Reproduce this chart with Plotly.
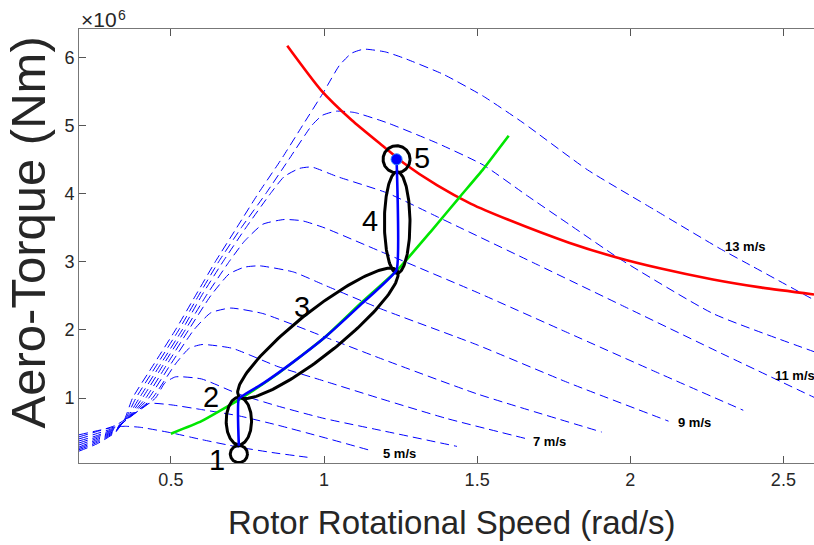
import numpy as np
import plotly.graph_objects as go

# ---------------- data (x: rotor speed rad/s, y: aero torque in 1e6 Nm) ----------------
wind_speeds = [4, 5, 6, 7, 8, 9, 10, 11, 12, 13]

ws4_x = [0.20, 0.27, 0.32, 0.35, 0.40, 0.50, 0.60, 0.72, 0.83, 0.946]
ws4_y = [0.46, 0.53, 0.575, 0.585, 0.57, 0.49, 0.39, 0.28, 0.20, 0.13]

ws5_x = [0.20, 0.26, 0.32, 0.39, 0.428, 0.50, 0.60, 0.72, 0.85, 1.00, 1.16]
ws5_y = [0.43, 0.51, 0.60, 0.80, 0.92, 0.90, 0.83, 0.74, 0.60, 0.42, 0.22]

ws6_x = [0.20, 0.26, 0.32, 0.385, 0.45, 0.48, 0.515, 0.60, 0.72, 0.85, 1.00, 1.185, 1.434]
ws6_y = [0.40, 0.48, 0.57, 0.78, 1.00, 1.22, 1.31, 1.28, 1.06, 0.88, 0.70, 0.525, 0.29]

ws7_x = [0.20, 0.26, 0.32, 0.38, 0.44, 0.515, 0.56, 0.602, 0.70, 0.85, 1.00, 1.185, 1.40, 1.663]
ws7_y = [0.37, 0.45, 0.56, 0.77, 1.00, 1.50, 1.73, 1.785, 1.73, 1.46, 1.25, 0.99, 0.70, 0.40]

ws8_x = [0.20, 0.26, 0.32, 0.375, 0.428, 0.50, 0.575, 0.63, 0.695, 0.80, 1.00, 1.185, 1.50, 1.907]
ws8_y = [0.34, 0.43, 0.55, 0.76, 1.00, 1.50, 2.00, 2.25, 2.32, 2.24, 1.90, 1.58, 1.06, 0.50]

ws9_x = [0.20, 0.26, 0.32, 0.37, 0.418, 0.488, 0.558, 0.63, 0.69, 0.74, 0.79, 0.90, 1.00, 1.185, 1.50, 1.80, 2.125]
ws9_y = [0.31, 0.41, 0.54, 0.75, 1.00, 1.50, 2.00, 2.50, 2.82, 2.92, 2.94, 2.85, 2.66, 2.31, 1.78, 1.22, 0.66]

ws10_x = [0.20, 0.26, 0.32, 0.365, 0.407, 0.477, 0.547, 0.615, 0.69, 0.74, 0.80, 0.87, 0.93, 1.00, 1.185, 1.50, 1.80, 2.10, 2.369]
ws10_y = [0.28, 0.39, 0.53, 0.74, 1.00, 1.50, 2.00, 2.50, 3.00, 3.30, 3.55, 3.62, 3.60, 3.50, 3.15, 2.55, 1.95, 1.35, 0.82]

ws11_x = [0.20, 0.26, 0.32, 0.36, 0.397, 0.467, 0.537, 0.60, 0.67, 0.745, 0.825, 0.87, 0.92, 0.96, 1.043, 1.206, 1.37, 1.70, 2.00, 2.30, 2.60]
ws11_y = [0.26, 0.37, 0.52, 0.73, 1.00, 1.50, 2.00, 2.50, 3.00, 3.50, 4.00, 4.25, 4.37, 4.39, 4.25, 4.01, 3.66, 2.95, 2.30, 1.65, 1.01]

ws12_x = [0.20, 0.26, 0.32, 0.355, 0.386, 0.456, 0.526, 0.59, 0.656, 0.73, 0.81, 0.885, 0.96, 0.995, 1.04, 1.10, 1.206, 1.37, 1.52, 1.66, 1.80, 1.97, 2.27, 2.60]
ws12_y = [0.24, 0.35, 0.51, 0.72, 1.00, 1.50, 2.00, 2.50, 3.00, 3.50, 4.00, 4.50, 5.00, 5.15, 5.21, 5.19, 5.04, 4.74, 4.42, 3.98, 3.55, 3.03, 2.24, 1.68]

ws13_x = [0.20, 0.26, 0.32, 0.35, 0.375, 0.445, 0.515, 0.58, 0.645, 0.715, 0.785, 0.86, 0.93, 1.00, 1.05, 1.09, 1.13, 1.20, 1.26, 1.39, 1.52, 1.65, 1.86, 2.08, 2.29, 2.40, 2.60]
ws13_y = [0.22, 0.33, 0.50, 0.70, 1.00, 1.50, 2.00, 2.50, 3.00, 3.50, 4.00, 4.50, 5.00, 5.50, 5.88, 6.06, 6.12, 6.08, 5.99, 5.75, 5.43, 5.04, 4.35, 3.76, 3.20, 2.93, 2.44]

# rated (constant power) curve
red_x = [0.88, 0.99, 1.09, 1.20, 1.26, 1.37, 1.48, 1.60, 1.80, 1.95, 2.10, 2.27, 2.43, 2.60]
red_y = [6.17, 5.52, 5.08, 4.67, 4.45, 4.12, 3.85, 3.62, 3.28, 3.07, 2.90, 2.74, 2.62, 2.52]

# optimal torque curve
green_x = [0.50, 0.60, 0.72, 0.85, 1.00, 1.12, 1.24, 1.35, 1.445, 1.52, 1.603]
green_y = [0.476, 0.66, 0.97, 1.36, 1.88, 2.39, 2.88, 3.45, 3.96, 4.36, 4.85]

# operating trajectory
path_x = [0.722, 0.722, 0.80, 0.90, 1.00, 1.12, 1.237, 1.237]
path_y = [0.30, 0.99, 1.21, 1.53, 1.88, 2.37, 2.88, 4.504]
point_x = [1.237]
point_y = [4.504]

# wind speed labels
label_text = ["5 m/s", "7 m/s", "9 m/s", "11 m/s", "13 m/s"]
label_x = [1.190, 1.679, 2.152, 2.470, 2.306]
label_y = [0.19, 0.367, 0.646, 1.333, 3.227]

# region markers (ellipses): centre x, centre y, semi-axis a (px), b (px), angle (deg)
ell_cx = [0.722, 0.722, 0.980, 1.239, 1.237]
ell_cy = [0.178, 0.662, 1.950, 3.576, 4.504]
ell_a = [8.6, 23.8, 101.0, 50.8, 13.5]
ell_b = [8.6, 12.7, 22.0, 12.8, 13.5]
ell_ang = [0, 90, 38.5, 90, 0]

num_text = ["1", "2", "3", "4", "5"]
num_x = [0.652, 0.632, 0.929, 1.150, 1.320]
num_y = [0.084, 1.01, 2.34, 3.60, 4.52]

x_ticks = [0.5, 1, 1.5, 2, 2.5]
x_ticklabels = ["0.5", "1", "1.5", "2", "2.5"]
y_ticks = [1, 2, 3, 4, 5, 6]
y_ticklabels = ["1", "2", "3", "4", "5", "6"]

# ---------------- layout geometry ----------------
W, H = 814, 545
ML, MR, MT, MB = 79, 0, 29, 82
X_RANGE = [0.2, 2.6]
Y_RANGE = [0.046, 6.416]
SX = (W - ML - MR) / (X_RANGE[1] - X_RANGE[0])
SY = (H - MT - MB) / (Y_RANGE[1] - Y_RANGE[0])

fig = go.Figure()

curves = [(ws4_x, ws4_y), (ws5_x, ws5_y), (ws6_x, ws6_y), (ws7_x, ws7_y), (ws8_x, ws8_y),
          (ws9_x, ws9_y), (ws10_x, ws10_y), (ws11_x, ws11_y), (ws12_x, ws12_y), (ws13_x, ws13_y)]
for v, (cx, cy) in zip(wind_speeds, curves):
    fig.add_trace(go.Scatter(x=cx, y=cy, mode="lines", name=f"{v} m/s",
                             line=dict(color="#0000ff", width=1, dash="9px,5px",
                                       shape="spline", smoothing=0.5),
                             hoverinfo="skip", showlegend=False))

fig.add_trace(go.Scatter(x=red_x, y=red_y, mode="lines",
                         line=dict(color="#ff0000", width=2.6, shape="spline", smoothing=0.6),
                         showlegend=False, hoverinfo="skip"))
fig.add_trace(go.Scatter(x=green_x, y=green_y, mode="lines",
                         line=dict(color="#00e600", width=2.6, shape="spline", smoothing=0.4),
                         showlegend=False, hoverinfo="skip"))

# ellipses
t = np.linspace(0, 2 * np.pi, 181)
for cx, cy, a, b, ang in zip(ell_cx, ell_cy, ell_a, ell_b, ell_ang):
    th = np.deg2rad(ang)
    dxp = a * np.cos(t) * np.cos(th) - b * np.sin(t) * np.sin(th)
    dyp = a * np.cos(t) * np.sin(th) + b * np.sin(t) * np.cos(th)
    fig.add_trace(go.Scatter(x=cx + dxp / SX, y=cy + dyp / SY, mode="lines",
                             line=dict(color="#000000", width=3),
                             showlegend=False, hoverinfo="skip", cliponaxis=False))

fig.add_trace(go.Scatter(x=path_x, y=path_y, mode="lines",
                         line=dict(color="#0000ff", width=2.6, shape="spline", smoothing=0.3),
                         showlegend=False, hoverinfo="skip"))
fig.add_trace(go.Scatter(x=point_x, y=point_y, mode="markers",
                         marker=dict(color="#0000ff", size=11, line=dict(color="#2a7fff", width=1)),
                         showlegend=False, hoverinfo="skip"))

FONT = "Liberation Sans, Arial, sans-serif"
for txt, lx, ly in zip(label_text, label_x, label_y):
    fig.add_annotation(x=lx, y=ly, text=f"<b>{txt}</b>", showarrow=False,
                       xanchor="left", yanchor="middle", borderpad=0,
                       font=dict(family=FONT, size=13, color="#000000"))
for txt, lx, ly in zip(num_text, num_x, num_y):
    fig.add_annotation(x=lx, y=ly, text=txt, showarrow=False,
                       xanchor="center", yanchor="middle",
                       font=dict(family=FONT, size=29, color="#000000"))

# axis titles and exponent
fig.add_annotation(xref="paper", yref="paper", x=0.5075, y=-0.137, text="Rotor Rotational Speed (rad/s)",
                   showarrow=False, xanchor="center", yanchor="middle",
                   font=dict(family=FONT, size=33, color="#262626"))
fig.add_annotation(xref="paper", yref="paper", x=-0.069, y=0.532, text="Aero-Torque (Nm)",
                   showarrow=False, xanchor="center", yanchor="middle", textangle=-90, borderpad=0,
                   font=dict(family=FONT, size=49, color="#262626"))
fig.add_annotation(xref="paper", yref="paper", x=0.0, y=1.0, text="×10",
                   showarrow=False, xanchor="left", yanchor="bottom", xshift=1, yshift=-3, borderpad=0,
                   font=dict(family=FONT, size=21, color="#262626"))
fig.add_annotation(xref="paper", yref="paper", x=0.0, y=1.0, text="6",
                   showarrow=False, xanchor="left", yanchor="bottom", xshift=38, yshift=5, borderpad=0,
                   font=dict(family=FONT, size=14, color="#262626"))

axis_common = dict(showgrid=False, zeroline=False, ticks="inside", ticklen=7, tickwidth=1,
                   tickcolor="#555555", showline=True, linecolor="#777777", linewidth=1,
                   tickfont=dict(family=FONT, size=18, color="#262626"))
fig.update_xaxes(range=X_RANGE, tickvals=x_ticks, ticktext=x_ticklabels, mirror="ticks", **axis_common)
fig.update_yaxes(range=Y_RANGE, tickvals=y_ticks, ticktext=y_ticklabels, mirror=False, **axis_common)

fig.update_layout(width=W, height=H, margin=dict(l=ML, r=MR, t=MT, b=MB),
                  plot_bgcolor="white", paper_bgcolor="white", showlegend=False,
                  hovermode=False)

fig.write_html("out.html", config={"displayModeBar": False, "staticPlot": True},
               post_script="document.body.style.margin='0';document.body.style.overflow='hidden';")
